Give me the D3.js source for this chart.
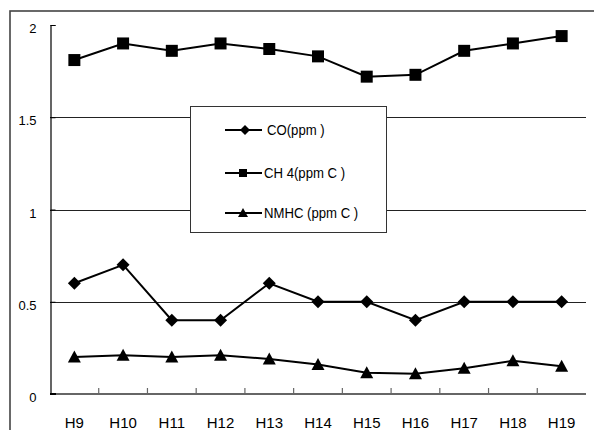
<!DOCTYPE html>
<html>
<head>
<meta charset="utf-8">
<script src="https://cdn.jsdelivr.net/npm/d3@7"></script>
<style>
  html, body { margin: 0; padding: 0; background: #fff; }
  svg text { font-family: "Liberation Sans", Arial, sans-serif; fill: #000; }
</style>
</head>
<body>
<svg id="chart" width="594" height="430"></svg>
<script>
// Hourly concentrations, H9 to H19
const hours = ["H9", "H10", "H11", "H12", "H13", "H14", "H15", "H16", "H17", "H18", "H19"];
const co   = [0.6, 0.7, 0.4, 0.4, 0.6, 0.5, 0.5, 0.4, 0.5, 0.5, 0.5];
const ch4  = [1.81, 1.90, 1.86, 1.90, 1.87, 1.83, 1.72, 1.73, 1.86, 1.90, 1.94];
const nmhc = [0.20, 0.21, 0.20, 0.21, 0.19, 0.16, 0.115, 0.11, 0.14, 0.18, 0.15];
const yTicks = [0, 0.5, 1, 1.5, 2];
const yTickLabels = ["0", "0.5", "1", "1.5", "2"];
const seriesNames = ["CO(ppm )", "CH 4(ppm C )", "NMHC (ppm C )"];

// Marker shapes drawn inside a w×w box centred on the point
const shapes = {
  diamond: w => `M0,${-w / 2}L${w / 2},0L0,${w / 2}L${-w / 2},0Z`,
  square: w => `M${-w / 2},${-w / 2}h${w}v${w}h${-w}Z`,
  triangle: w => `M0,${-w / 2}L${w / 2},${w / 2 - 1}L${-w / 2},${w / 2 - 1}Z`
};

const series = [
  { name: seriesNames[0], values: co,   shape: "diamond",  size: 13, legendSize: 10 },
  { name: seriesNames[1], values: ch4,  shape: "square",   size: 12, legendSize: 8 },
  { name: seriesNames[2], values: nmhc, shape: "triangle", size: 13, legendSize: 10 }
];

const svg = d3.select("#chart");
const plot = { left: 50, right: 586, top: 25, bottom: 394 };

// Outer chart frame (continues past the right and bottom edges)
svg.append("rect")
  .attr("x", 10).attr("y", 11)
  .attr("width", 620).attr("height", 440)
  .attr("fill", "none").attr("stroke", "#444").attr("stroke-width", 1.6);

const x = d3.scaleBand().domain(hours).range([plot.left, plot.right]).padding(0);
const y = d3.scaleLinear().domain([0, 2]).range([plot.bottom, plot.top]);
const cx = h => x(h) + x.bandwidth() / 2;

// Horizontal gridlines
svg.append("g").selectAll("line")
  .data(yTicks.filter(t => t > 0 && t < 2))
  .join("line")
  .attr("x1", plot.left).attr("x2", plot.right)
  .attr("y1", d => Math.round(y(d)) + 0.5).attr("y2", d => Math.round(y(d)) + 0.5)
  .attr("stroke", "#222").attr("stroke-width", 1);

// Y axis
const yAxis = d3.axisRight(y).tickValues(yTicks).tickSize(5).tickFormat("");
const gy = svg.append("g").attr("transform", `translate(${plot.left + 0.5},0)`).call(yAxis);
gy.select(".domain").attr("stroke", "#000").attr("stroke-width", 1.2);
gy.selectAll(".tick line").attr("stroke", "#000");

svg.append("g").selectAll("text")
  .data(yTicks)
  .join("text")
  .attr("x", 36.5)
  .attr("y", d => y(d) + 8)
  .attr("text-anchor", "end")
  .attr("font-size", 13)
  .text((d, i) => yTickLabels[i]);

// X axis with category boundaries marked
const xBounds = d3.range(hours.length + 1).map(i => plot.left + i * x.bandwidth());
svg.append("line")
  .attr("x1", plot.left).attr("x2", plot.right)
  .attr("y1", plot.bottom).attr("y2", plot.bottom)
  .attr("stroke", "#666").attr("stroke-width", 2);
svg.append("g").selectAll("line")
  .data(xBounds.slice(1, -1))
  .join("line")
  .attr("x1", d => d).attr("x2", d => d)
  .attr("y1", plot.bottom).attr("y2", plot.bottom - 6)
  .attr("stroke", "#666").attr("stroke-width", 1.2);
svg.append("line")
  .attr("x1", plot.left).attr("x2", plot.left + 6)
  .attr("y1", plot.bottom).attr("y2", plot.bottom)
  .attr("stroke", "#000").attr("stroke-width", 2);

svg.append("g").selectAll("text")
  .data(hours)
  .join("text")
  .attr("x", d => cx(d))
  .attr("y", 428)
  .attr("text-anchor", "middle")
  .attr("font-size", 15)
  .text(d => d);

// Series lines and markers
const line = d3.line()
  .x((v, i) => cx(hours[i]))
  .y(v => y(v));

series.forEach(s => {
  svg.append("path")
    .attr("d", line(s.values))
    .attr("fill", "none").attr("stroke", "#000").attr("stroke-width", 2);
  svg.append("g").selectAll("path")
    .data(s.values)
    .join("path")
    .attr("transform", (v, i) => `translate(${cx(hours[i])},${y(v)})`)
    .attr("d", shapes[s.shape](s.size))
    .attr("fill", "#000");
});

// Legend
const legend = svg.append("g");
legend.append("rect")
  .attr("x", 190.5).attr("y", 106.5)
  .attr("width", 196).attr("height", 126)
  .attr("fill", "#fff").attr("stroke", "#333").attr("stroke-width", 1);

const legendRows = [130, 173, 213];
series.forEach((s, i) => {
  const ly = legendRows[i];
  legend.append("line")
    .attr("x1", 225).attr("x2", 262)
    .attr("y1", ly).attr("y2", ly)
    .attr("stroke", "#000").attr("stroke-width", 2);
  legend.append("path")
    .attr("transform", `translate(${i === 0 ? 245 : 243},${ly})`)
    .attr("d", shapes[s.shape](s.legendSize))
    .attr("fill", "#000");
  legend.append("text")
    .attr("transform", `translate(${i === 0 ? 267 : 264},${ly + 5}) scale(0.94,1)`)
    .attr("font-size", 14)
    .text(s.name);
});
</script>
</body>
</html>
